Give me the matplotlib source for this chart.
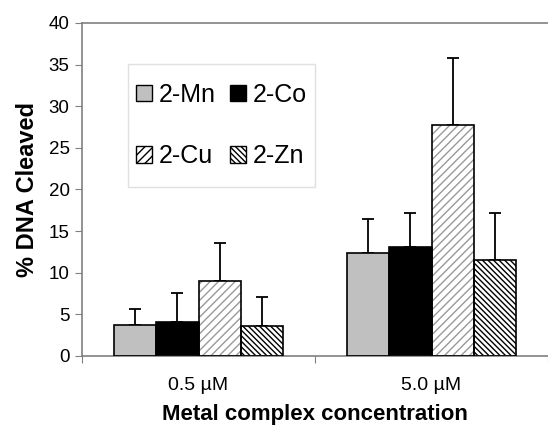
import numpy as np
import matplotlib.pyplot as plt
from matplotlib.patches import Patch, Rectangle

plt.rcParams['font.family'] = ['Liberation Sans', 'DejaVu Sans']
plt.rcParams['hatch.linewidth'] = 1.0

concentrations = ["0.5 µM", "5.0 µM"]
complexes = ["2-Mn", "2-Co", "2-Cu", "2-Zn"]
values = {
    "2-Mn": [3.7, 12.4],
    "2-Co": [4.1, 13.1],
    "2-Cu": [9.0, 27.7],
    "2-Zn": [3.6, 11.5],
}
errors = {
    "2-Mn": [1.9, 4.1],
    "2-Co": [3.5, 4.1],
    "2-Cu": [4.6, 8.1],
    "2-Zn": [3.5, 5.7],
}

fills = {"2-Mn": "#c0c0c0", "2-Co": "black", "2-Cu": "white", "2-Zn": "white"}
hatches = {"2-Mn": None, "2-Co": None, "2-Cu": "////", "2-Zn": "\\\\\\\\\\\\"}
hatch_cols = {"2-Mn": "black", "2-Co": "black", "2-Cu": "#999999", "2-Zn": "black"}

fig = plt.figure(figsize=(5.48, 4.25), dpi=100)
ax = fig.add_axes([82 / 548, 69 / 425, 1 - 82 / 548, 333 / 425])

x = np.arange(len(concentrations))
w = 0.182
handles = {}
for i, name in enumerate(complexes):
    pos = x + (i - 1.5) * w
    ax.bar(pos, values[name], w, color=fills[name], edgecolor=hatch_cols[name],
           hatch=hatches[name], linewidth=0, zorder=2)
    ax.bar(pos, values[name], w, facecolor="none", edgecolor="black",
           linewidth=1.2, zorder=3)
    ax.errorbar(pos, values[name], yerr=[np.zeros(2), errors[name]], fmt="none",
                ecolor="black", elinewidth=1.3, capsize=4.5, capthick=1.3, zorder=1)
    handles[name] = Patch(facecolor=fills[name], edgecolor="black", hatch=hatches[name],
                          linewidth=1.0, label=name)

ax.set_xlim(-0.5, -0.5 + 466 / 236)
ax.set_ylim(0, 40)
ax.set_yticks(range(0, 41, 5))
ax.set_xticks([-0.5, 0.5, 1.5])
ax.set_xticklabels([])
ax.set_xticks(x, minor=True)
ax.set_xticklabels(concentrations, minor=True)
ax.tick_params(axis="x", which="minor", length=0, pad=15, labelsize=14)
ax.tick_params(axis="x", which="major", length=5, color="#808080", direction="out")
ax.tick_params(axis="y", length=5, color="#808080", direction="out", labelsize=13.5, pad=4)

for side in ["left", "bottom", "top"]:
    ax.spines[side].set_color("#808080")
    ax.spines[side].set_linewidth(1.2)
ax.spines["right"].set_visible(False)

ax.set_ylabel("% DNA Cleaved", fontsize=17, fontweight="bold", labelpad=7)
ax.set_xlabel("Metal complex concentration", fontsize=16, fontweight="bold", labelpad=7)

# legend: row-major order like the original (Mn, Co / Cu, Zn)
order = ["2-Mn", "2-Cu", "2-Co", "2-Zn"]
ax.add_patch(Rectangle((0.0987, 0.5075), 0.401, 0.3695, transform=ax.transAxes,
                       facecolor="white", edgecolor="#e0e0e0", linewidth=1.0, zorder=4))
leg = ax.legend(handles=[handles[n] for n in order], ncol=2, loc="center",
                bbox_to_anchor=(0.2994, 0.692), fontsize=18, frameon=False,
                handlelength=0.64, handleheight=0.64, handletextpad=0.25,
                columnspacing=0.6, labelspacing=1.5, borderpad=0.2, borderaxespad=0)
leg.set_zorder(5)

fig.savefig("out.png", dpi=100)
